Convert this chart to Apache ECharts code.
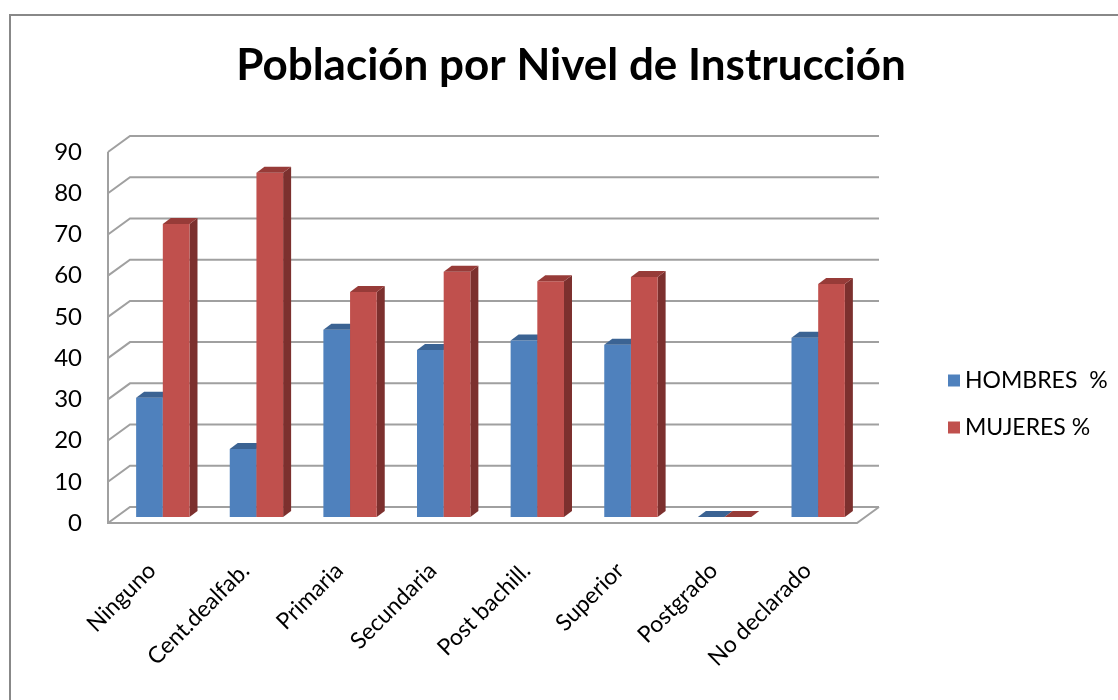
<!DOCTYPE html>
<html>
<head>
<meta charset="utf-8">
<script src="https://cdn.jsdelivr.net/npm/echarts@6/dist/echarts.min.js"></script>
<style>
html, body { margin: 0; padding: 0; background: #fff; }
#chart { width: 1118px; height: 700px; }
</style>
</head>
<body>
<div id="chart"></div>
<script>
// datos
const categories = ['Ninguno', 'Cent.dealfab.', 'Primaria', 'Secundaria', 'Post bachill.', 'Superior', 'Postgrado', 'No declarado'];
const hombres = [28.9, 16.5, 45.4, 40.5, 42.8, 41.8, 0, 43.5];
const mujeres = [71.1, 83.5, 54.6, 59.5, 57.2, 58.2, 0, 56.5];
const yTicks = [0, 10, 20, 30, 40, 50, 60, 70, 80, 90];

const FONT = 'Lato';
const WALL = [22, -16];      // profundidad de la pared del fondo
const BAR_OFF = [8, -6];     // cara frontal de las barras
const BAR_DEPTH = [8, -6];   // grosor de las barras
const GRID_COLOR = '#a0a0a0';

const colHombres = { front: '#4f81bd', top: '#3b6393', side: '#2c4c73' };
const colMujeres = { front: '#c0504d', top: '#973b38', side: '#7c302e' };

function barRenderer(left, colors) {
    return function (params, api) {
        const idx = api.value(0);
        const v = api.value(1);
        const base = api.coord([idx, 0]);
        const top = api.coord([idx, v]);
        const w = api.size([1, 0])[0] * 0.285;
        const x0 = base[0] + (left ? -w : 0) + BAR_OFF[0];
        const x1 = x0 + w;
        const yb = base[1] + BAR_OFF[1];
        const yt = top[1] + BAR_OFF[1];
        const dx = BAR_DEPTH[0], dy = BAR_DEPTH[1];
        return {
            type: 'group',
            children: [
                { type: 'polygon', shape: { points: [[x1, yb], [x1 + dx, yb + dy], [x1 + dx, yt + dy], [x1, yt]] }, style: { fill: colors.side } },
                { type: 'rect', shape: { x: x0, y: yt, width: w, height: yb - yt }, style: { fill: colors.front } },
                { type: 'polygon', shape: { points: [[x0, yt], [x0 + dx, yt + dy], [x1 + dx, yt + dy], [x1, yt]] }, style: { fill: colors.top } }
            ]
        };
    };
}

function wallRenderer(params, api) {
    const cs = params.coordSys;
    const v = api.value(1);
    const y = api.coord([0, v])[1];
    const xl = cs.x, xr = cs.x + cs.width;
    const line = { stroke: GRID_COLOR, lineWidth: 2, fill: null };
    const children = [
        { type: 'polyline', shape: { points: [[xl, y], [xl + WALL[0], y + WALL[1]], [xr + WALL[0], y + WALL[1]]] }, style: line }
    ];
    if (v === 0) {
        children.push({ type: 'polyline', shape: { points: [[xl, cs.y], [xl, y], [xr, y], [xr + WALL[0], y + WALL[1]]] }, style: line });
    }
    return { type: 'group', children: children };
}

const options = {
    backgroundColor: '#fff',
    textStyle: { fontFamily: FONT },
    graphic: [{
        type: 'rect',
        shape: { x: 10, y: 15, width: 1200, height: 800 },
        style: { fill: null, stroke: '#888', lineWidth: 2 },
        silent: true
    }],
    title: {
        text: 'Población por Nivel de Instrucción',
        left: 566,
        textAlign: 'center',
        top: 39,
        textStyle: { fontFamily: FONT, fontSize: 44, fontWeight: 'bold', color: '#000' }
    },
    legend: {
        orient: 'vertical',
        left: 943,
        top: 364,
        itemWidth: 12,
        itemHeight: 12,
        itemGap: 24,
        icon: 'rect',
        textStyle: { fontFamily: FONT, fontSize: 23, color: '#000' },
        data: ['HOMBRES  %', 'MUJERES %']
    },
    grid: { left: 108, right: 261, top: 152, bottom: 177 },
    xAxis: {
        type: 'category',
        data: categories,
        axisLine: { show: false },
        axisTick: { show: false },
        axisLabel: { rotate: 45, margin: 41, padding: [0, 4, 0, 0], fontSize: 23, color: '#000', fontFamily: FONT, interval: 0 }
    },
    yAxis: {
        type: 'value',
        min: 0,
        max: 90,
        interval: 10,
        axisLine: { show: false },
        axisTick: { show: false },
        splitLine: { show: false },
        axisLabel: { margin: 26, fontSize: 24, color: '#000', fontFamily: FONT }
    },
    series: [
        {
            name: 'walls',
            type: 'custom',
            clip: false,
            silent: true,
            renderItem: wallRenderer,
            encode: { x: 0, y: 1 },
            data: yTicks.map(v => [0, v]),
            z: 1
        },
        {
            name: 'HOMBRES  %',
            type: 'custom',
            clip: false,
            renderItem: barRenderer(true, colHombres),
            itemStyle: { color: colHombres.front },
            encode: { x: 0, y: 1 },
            data: hombres.map((v, i) => [i, v]),
            z: 2
        },
        {
            name: 'MUJERES %',
            type: 'custom',
            clip: false,
            renderItem: barRenderer(false, colMujeres),
            itemStyle: { color: colMujeres.front },
            encode: { x: 0, y: 1 },
            data: mujeres.map((v, i) => [i, v]),
            z: 3
        }
    ]
};

const E = echarts.init(document.getElementById('chart'));
window.onresize = function () {
    E.resize();
};
E.setOption(options);
</script>
</body>
</html>
